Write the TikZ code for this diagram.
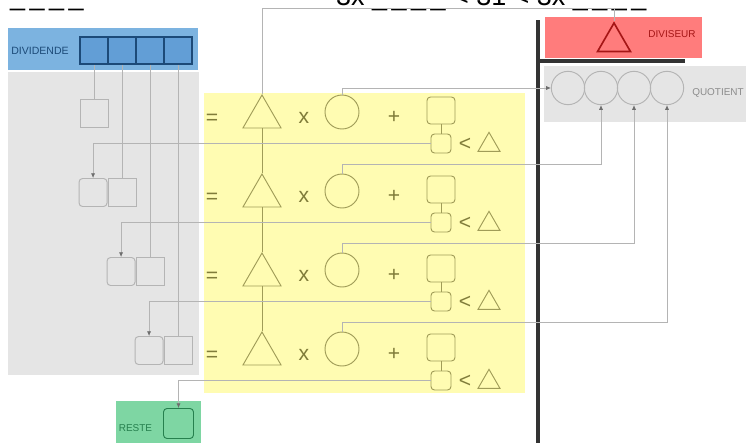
\documentclass[tikz,border=0pt]{standalone}
\usepackage{fontspec}
\setmainfont{Liberation Sans}
\usepackage{tikz}
\usetikzlibrary{shapes.geometric, arrows.meta}
\definecolor{myblue}{RGB}{124,179,224}
\definecolor{mydarkblue}{RGB}{28,74,120}
\definecolor{mydigitblue}{RGB}{98,158,214}
\definecolor{myred}{RGB}{255,124,124}
\definecolor{mydarkred}{RGB}{165,22,22}
\definecolor{mygreen}{RGB}{126,214,163}
\definecolor{mydarkgreen}{RGB}{38,128,78}
\definecolor{mygray}{RGB}{229,229,229}
\definecolor{myyellow}{RGB}{255,252,178}
\definecolor{myolive}{RGB}{160,156,88}
\definecolor{mysign}{RGB}{128,124,58}
\definecolor{myline}{RGB}{180,180,180}
\definecolor{mytip}{RGB}{110,110,110}
\tikzstyle{dvdsq} = [rectangle, minimum width=0.84cm, minimum height=0.81cm, inner sep=0, draw=mydarkblue, line width=1.4pt, fill=mydigitblue]
\tikzstyle{plainsq} = [rectangle, minimum size=0.84cm, inner sep=0, draw=myline, line width=0.8pt]
\tikzstyle{roundsq} = [plainsq, rounded corners=3pt]
\tikzstyle{bigtri} = [regular polygon, regular polygon sides=3, minimum size=1.32cm, inner sep=0, draw=myolive, line width=0.8pt]
\tikzstyle{smalltri} = [bigtri, minimum size=0.76cm]
\tikzstyle{rowcirc} = [circle, minimum size=1.02cm, inner sep=0, draw=myolive, line width=0.8pt]
\tikzstyle{qcirc} = [circle, minimum size=1.0cm, inner sep=0, draw=myline, line width=0.8pt]
\tikzstyle{bigsq} = [rectangle, rounded corners=3pt, minimum width=0.84cm, minimum height=0.81cm, inner sep=0, draw=myolive, line width=0.8pt]
\tikzstyle{smallsq} = [bigsq, minimum width=0.6cm, minimum height=0.57cm]
\tikzstyle{sign} = [text=mysign, font=\fontsize{18}{18}\selectfont, inner sep=0]
\tikzstyle{boxtext} = [font=\fontsize{8.5}{9}\selectfont, inner sep=0]
\tikzstyle{link} = [draw=myline, line width=0.6pt]
\tikzstyle{arrow} = [link, -{Latex[length=4pt, width=3.5pt, color=mytip]}]
\tikzstyle{blackbar} = [draw=black!80, line width=3.2pt]

\begin{document}
\begin{tikzpicture}[x=0.03cm, y=-0.03cm]
    \useasboundingbox (0,0) rectangle (755,442);
    \fill[myblue] (8,28) rectangle (198,70);
    \fill[mygray] (8,72) rectangle (199,375);
    \fill[myyellow] (204,93) rectangle (525,393);
    \fill[myred] (545,17) rectangle (702,58);
    \fill[mygray] (544,66) rectangle (746,122);
    \fill[mygreen] (116,401) rectangle (201,450);
    \node[anchor=base west, font=\fontsize{23}{23}\selectfont, inner sep=0] (ineq) at (336,5) {3x \_\,\_\,\_\,\_ < 31 < 3x \_\,\_\,\_\,\_};
    \node[anchor=base west, font=\fontsize{23}{23}\selectfont, inner sep=0] (blanks) at (10,5) {\_\,\_\,\_\,\_};
    \node[boxtext, text=mydarkblue, font=\fontsize{9}{10}\selectfont] (dvdlabel) at (40,51) {DIVIDENDE};
    \node[boxtext, text=mydarkred] (divlabel) at (672,34) {DIVISEUR};
    \node[boxtext, text=black!45] (qlabel) at (718,93) {QUOTIENT};
    \node[boxtext, text=mydarkgreen] (restelabel) at (135.5,428) {RESTE};
    \draw[blackbar] (538,20) -- (538,445);
    \draw[blackbar] (538,61) -- (685,61);
    \node[bigtri, draw=mydarkred, line width=1.4pt, minimum size=1.14cm] (divtri) at (614,42) {};
    \foreach \i/\x in {1/568,2/601,3/634,4/667} \node[qcirc] (q\i) at (\x,88) {};
    \node[roundsq, draw=mydarkgreen, minimum size=0.9cm] (reste) at (178.5,423.5) {};
    \foreach \i/\x in {1/94,2/122,3/150,4/178} \node[dvdsq] (dvd\i) at (\x,50.5) {};
    \node[plainsq] (sq1) at (94,113.5) {};
    \foreach \i/\x/\y in {2/122/192.5,3/150/271.5,4/178/350.5} {
        \node[plainsq] (sq\i) at (\x,\y) {};
        \node[roundsq, anchor=east] (rd\i) at (sq\i.west) {};
    }
    \foreach \i in {1,...,4} \draw[link] (dvd\i) -- (sq\i);
    \foreach \i/\b in {1/112,2/191,3/270,4/349} {
        \node[sign] (eq\i) at (212,\b+7) {=};
        \node[bigtri] (tri\i) at (262,\b+5) {};
        \node[sign] (times\i) at (304,\b+6) {x};
        \node[rowcirc] (circ\i) at (342,\b) {};
        \node[sign] (plus\i) at (394,\b+5) {+};
        \node[bigsq] (big\i) at (441,\b-1.5) {};
        \node[smallsq] (small\i) at (441,\b+31.5) {};
        \node[sign] (less\i) at (465,\b+32) {<};
        \node[smalltri] (ltri\i) at (489,\b+33) {};
        \draw[link, draw=myolive] (big\i) -- (small\i);
    }
    \foreach \i/\j in {1/2,2/3,3/4} \draw[link, draw=myolive] (tri\i.side 2) -- (tri\j.corner 1);
    \coordinate (bend) at (614,8);
    \draw[link] (tri1.corner 1) |- (bend) -- (divtri.corner 1);
    \draw[arrow] (circ1.north) |- (q1.west);
    \foreach \i in {2,3,4} \draw[arrow] (circ\i.north) -- ++(0,-9) -| (q\i.south);
    \foreach \i/\j in {1/2,2/3,3/4} \draw[arrow] (small\i.west) -| (rd\j.north);
    \draw[arrow] (small4.west) -| (reste.north);
\end{tikzpicture}
\end{document}
